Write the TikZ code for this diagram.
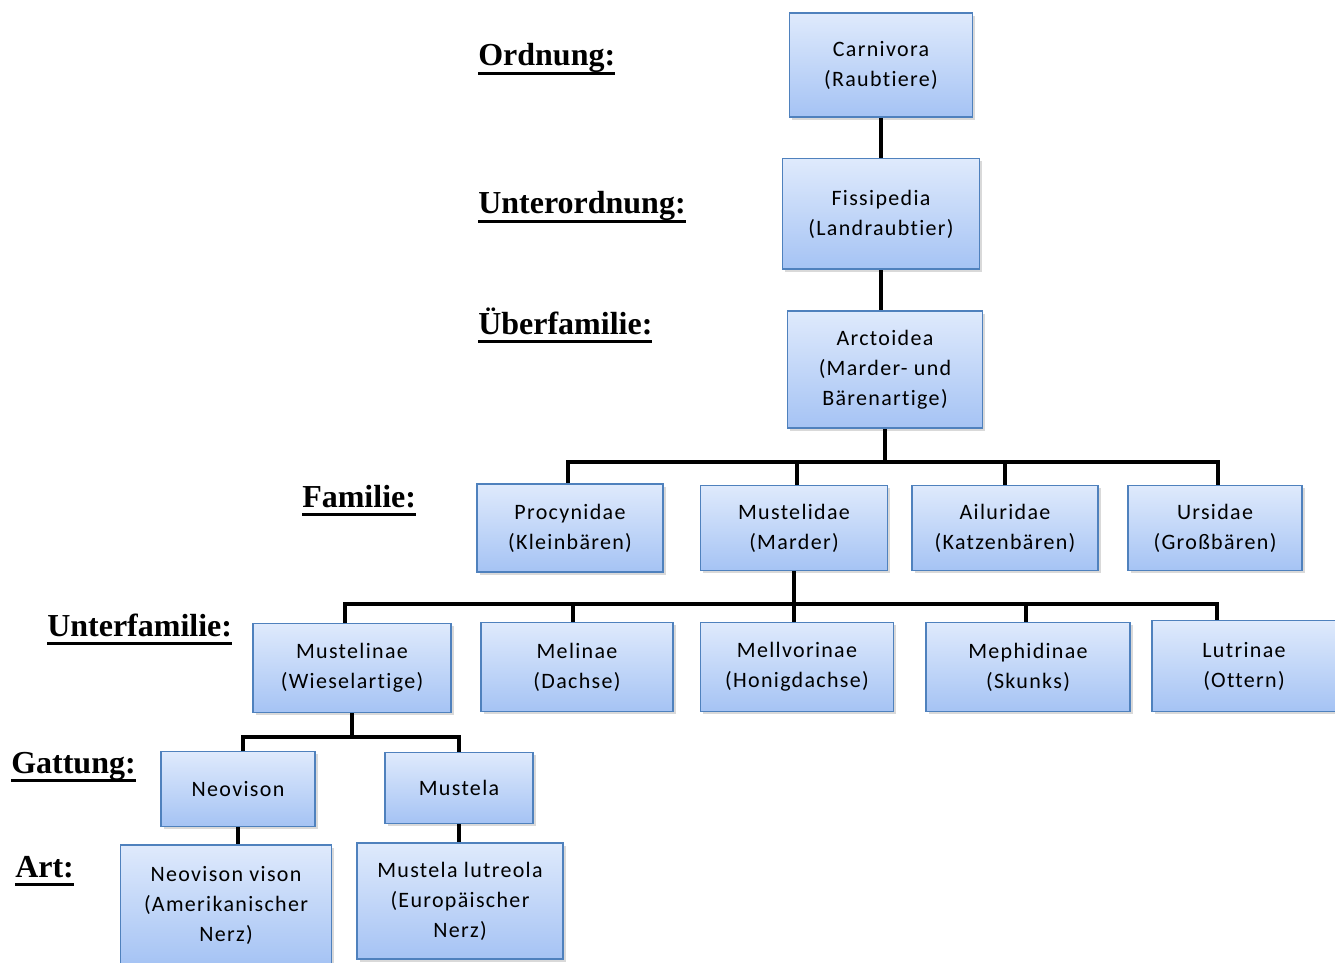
\documentclass[tikz,border=0pt]{standalone}
\usepackage{fontspec}
\setmainfont{Liberation Serif}
\newfontfamily\boxfont[LetterSpace=6, Ligatures=NoCommon]{Carlito}
\newcommand\rankul[1]{\setbox0\hbox{#1}\rlap{\vrule height -4.5pt depth 7pt width \wd0}\box0}
\usepackage{tikz}
\usetikzlibrary{positioning, shadows}
\definecolor{boxline}{HTML}{4F81BD}
\definecolor{boxtop}{HTML}{DFEAFC}
\definecolor{boxbottom}{HTML}{A5C3F4}
\tikzstyle{tax.box} = [rectangle, draw=boxline, line width=1.2pt, top color=boxtop, bottom color=boxbottom, drop shadow={shadow xshift=2pt, shadow yshift=-2pt, opacity=0.3}, align=center, font=\boxfont\fontsize{16.5}{22.5}\selectfont, inner sep=2pt]
\tikzstyle{tax.rank} = [anchor=base west, inner sep=0pt, font=\bfseries\fontsize{24}{28}\selectfont]
\tikzstyle{tax.link} = [line width=3pt, black, line join=miter]

\begin{document}
\begin{tikzpicture}[x=0.75pt, y=-0.75pt, node distance=30pt]
\useasboundingbox (0,0) rectangle (1335,963);

% ranks
\node[tax.rank] (r_ordnung) at (478,66) {\rankul{Ordnung:}};
\node[tax.rank] (r_unterordnung) at (478,214) {\rankul{Unterordnung:}};
\node[tax.rank] (r_ueberfamilie) at (478,334) {\rankul{Überfamilie:}};
\node[tax.rank] (r_familie) at (302,507) {\rankul{Familie:}};
\node[tax.rank] (r_unterfamilie) at (47,636) {\rankul{Unterfamilie:}};
\node[tax.rank] (r_gattung) at (11,773) {\rankul{Gattung:}};
\node[tax.rank] (r_art) at (15,877) {\rankul{Art:}};

% order, suborder, superfamily
\node[tax.box, minimum width=137pt, minimum height=78pt] (carn) at (881,65) {Carnivora\\(Raubtiere)};
\node[tax.box, minimum width=148pt, minimum height=83pt, below=of carn] (fiss) {Fissipedia\\(Landraubtier)};
\node[tax.box, minimum width=146pt, minimum height=88pt, below=of fiss, xshift=3pt] (arct) {Arctoidea\\(Marder- und\\Bärenartige)};

% families
\node[tax.box, minimum width=139.5pt, minimum height=66pt] (proc) at (570,528) {Procynidae\\(Kleinbären)};
\node[tax.box, minimum width=140pt, minimum height=64pt] (must) at (794,528) {Mustelidae\\(Marder)};
\node[tax.box, minimum width=139.5pt, minimum height=64pt] (ailu) at (1005,528) {Ailuridae\\(Katzenbären)};
\node[tax.box, minimum width=130.5pt, minimum height=64pt] (urs) at (1215,528) {Ursidae\\(Großbären)};

% subfamilies
\node[tax.box, minimum width=148.5pt, minimum height=67pt] (mtl) at (352,668) {Mustelinae\\(Wieselartige)};
\node[tax.box, minimum width=144pt, minimum height=67pt] (mel) at (577,667) {Melinae\\(Dachse)};
\node[tax.box, minimum width=145pt, minimum height=67pt] (mell) at (797,667) {Mellvorinae\\(Honigdachse)};
\node[tax.box, minimum width=153pt, minimum height=67pt] (meph) at (1028,667) {Mephidinae\\(Skunks)};
\node[tax.box, minimum width=138pt, minimum height=68pt] (lutr) at (1244,666) {Lutrinae\\(Ottern)};

% genera and species
\node[tax.box, minimum width=115.5pt, minimum height=56pt] (neo) at (238,789) {Neovison};
\node[tax.box, minimum width=111pt, minimum height=53pt] (mus) at (459,788) {Mustela};
\node[tax.box, minimum width=158pt, minimum height=90pt] (neov) at (226,905) {Neovison vison\\(Amerikanischer\\Nerz)};
\node[tax.box, minimum width=154.5pt, minimum height=87pt] (musl) at (460,901) {Mustela lutreola\\(Europäischer\\Nerz)};

\draw[tax.link] (carn) -- (fiss);
\draw[tax.link] (fiss.south) -- (fiss.south |- arct.north);

\draw[tax.link] (arct.south) -- ++(0,33) coordinate (famjoin);
\draw[tax.link] (famjoin) -| ([xshift=-1.5pt]proc.north);
\draw[tax.link] (famjoin) -| ([xshift=2pt]must.north);
\draw[tax.link] (famjoin) -| (ailu.north);
\draw[tax.link] (famjoin) -| ([xshift=2pt]urs.north);

\draw[tax.link] (must.south) -- ++(0,33) coordinate (subjoin);
\draw[tax.link] (subjoin) -| ([xshift=-5pt]mtl.north);
\draw[tax.link] (subjoin) -| ([xshift=-3pt]mel.north);
\draw[tax.link] (subjoin) -| ([xshift=-2.2pt]mell.north);
\draw[tax.link] (subjoin) -| ([xshift=-1.5pt]meph.north);
\draw[tax.link] (subjoin) -| ([xshift=-20pt]lutr.north);

\draw[tax.link] (mtl.south) -- ++(0,24) coordinate (genjoin);
\draw[tax.link] (genjoin) -| ([xshift=4pt]neo.north);
\draw[tax.link] (genjoin) -| (mus.north);

\draw[tax.link] (neo.south) -- (neo.south |- neov.north);
\draw[tax.link] (mus.south) -- (mus.south |- musl.north);
\end{tikzpicture}
\end{document}
